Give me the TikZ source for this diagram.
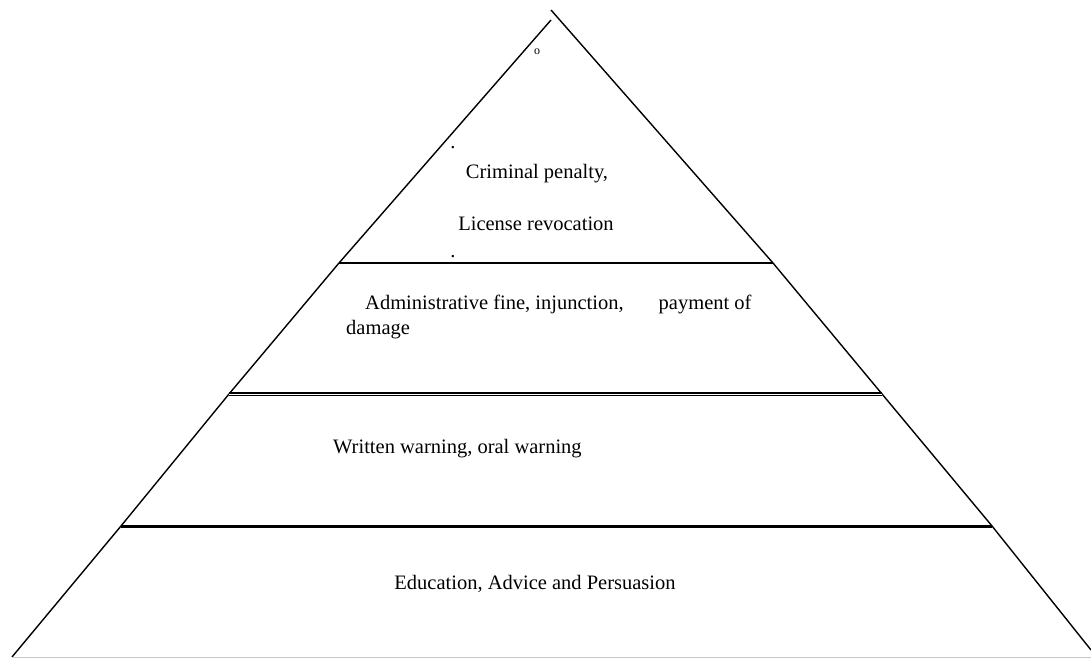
\documentclass[tikz,border=0pt]{standalone}
\usepackage{fontspec}
\setmainfont{Liberation Serif}
\usepackage{tikz}

\begin{document}
\begin{tikzpicture}[x=1bp, y=-1bp, font=\fontsize{20.5bp}{25bp}\selectfont]

\definecolor{pyrink}{HTML}{000000}
\definecolor{pyrbase}{HTML}{C8C8C8}

\tikzset{
  sideline/.style={draw=pyrink, line width=1.4bp},
  tierline/.style={draw=pyrink, line width=1.6bp},
  tierdouble/.style={draw=pyrink, double, line width=1.1bp,
    double distance=0.9bp},
  tierthick/.style={draw=pyrink, line width=3bp},
  tierlabel/.style={inner sep=0pt, text=pyrink}
}

\useasboundingbox (0,0) rectangle (1091,658);

% Corners of the tiers, left and right side of the pyramid.
\coordinate (ltop) at (551,20);
\coordinate (lone) at (339,263);
\coordinate (ltwo) at (229,394);
\coordinate (lthr) at (121,526);
\coordinate (lbot) at (12,657);
\coordinate (rtop) at (551,10);
\coordinate (rone) at (773,263);
\coordinate (rtwo) at (882,394);
\coordinate (rthr) at (992,526);
\coordinate (rbot) at (1091,650);
\coordinate (bend) at (1091,657);

% Sides.
\draw[sideline] (ltop) -- (lone) -- (ltwo) -- (lthr) -- (lbot);
\draw[sideline] (rtop) -- (rone) -- (rtwo) -- (rthr) -- (rbot);

% Tier boundaries.
\draw[tierline]   (lone) -- (rone);
\draw[tierdouble] (ltwo) -- (rtwo);
\draw[tierthick]  (lthr) -- (rthr);
\draw[draw=pyrbase, line width=1bp] (lbot) -- (bend);

% Top tier.
\node[font=\fontsize{12bp}{13bp}\selectfont] (mark) at (537,52) {o};
\node[tierlabel] (dotone) at (453,148) {.};
\node[tierlabel] (dottwo) at (453,257) {.};
\node[tierlabel] (crim) at (537,174) {Criminal penalty,};
\node[tierlabel] (lic)  at (536,224) {License revocation};

% Second tier.
\node[tierlabel, anchor=north west, align=left] (admin) at (346,295)
  {\hspace*{19bp}Administrative fine, injunction,\hspace{35bp}payment of\\damage};

% Third tier.
\node[tierlabel, anchor=west] (warn) at (333,449)
  {Written warning, oral warning};

% Base tier.
\node[tierlabel] (edu) at (535,584) {Education, Advice and Persuasion};

\end{tikzpicture}
\end{document}
